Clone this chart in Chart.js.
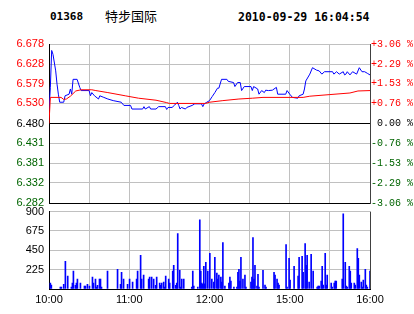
<!DOCTYPE html>
<html>
<head>
<meta charset="utf-8">
<script src="https://cdn.jsdelivr.net/npm/chart.js@4/dist/chart.umd.min.js"></script>
<style>
    body { margin: 0; background: #fff; width: 414px; height: 314px; overflow: hidden; position: relative; }
    .hd { position: absolute; top: 10px; line-height: 13px; font: bold 11px "DejaVu Sans Mono"; color: #000; white-space: nowrap; }
    canvas { position: absolute; left: 0; }
</style>
</head>
<body>
<div class="hd" style="left:50px">01368</div>
<div class="hd" style="left:105px; top:8px; font:13px 'Noto Sans CJK SC'; line-height:16px">特步国际</div>
<div class="hd" style="left:238px; font-size:11.5px">2010-09-29 16:04:54</div>
<canvas id="priceChart" width="414" height="185" style="top:30px"></canvas>
<canvas id="volChart" width="414" height="114" style="top:200px"></canvas>
<script>
// ── Data (minutes after 10:00, trading time only) ───────────
var priceMin = [0, 1, 2, 3, 5, 6, 7, 8, 11, 12, 15, 16, 17, 18, 21, 23, 24, 30, 31, 32, 34, 37, 38, 41, 44, 48, 54, 56, 61, 62,
                70, 71, 72, 75, 76, 80, 82, 87, 88, 89, 92, 94, 96, 97, 98, 99, 102, 103, 107, 109, 114, 115, 116, 118, 120,
                122, 124, 126, 127, 129, 133, 134, 138, 139, 141, 143, 144, 146, 151, 152, 153, 156, 157, 159, 161, 162, 164,
                167, 170, 171, 177, 178, 180, 182, 186, 187, 190, 191, 192, 195, 197, 200, 202, 204, 206, 212, 213, 215, 217,
                220, 221, 222, 223, 225, 227, 230, 232, 234, 236, 238, 240];
var price    = [6.513, 6.569, 6.662, 6.652, 6.611, 6.578, 6.553, 6.533, 6.533, 6.549, 6.553, 6.566, 6.553, 6.590, 6.590,
                6.570, 6.562, 6.562, 6.549, 6.557, 6.549, 6.541, 6.549, 6.545, 6.541, 6.537, 6.533, 6.525, 6.525, 6.516,
                6.516, 6.522, 6.516, 6.522, 6.516, 6.516, 6.522, 6.522, 6.515, 6.520, 6.520, 6.526, 6.533, 6.525, 6.516,
                6.520, 6.516, 6.520, 6.525, 6.529, 6.529, 6.522, 6.529, 6.533, 6.537, 6.547, 6.557, 6.568, 6.568, 6.590,
                6.590, 6.585, 6.582, 6.572, 6.582, 6.582, 6.562, 6.572, 6.572, 6.562, 6.572, 6.566, 6.553, 6.562, 6.557,
                6.563, 6.562, 6.563, 6.570, 6.553, 6.553, 6.562, 6.553, 6.545, 6.543, 6.549, 6.553, 6.566, 6.586, 6.603,
                6.619, 6.613, 6.611, 6.603, 6.609, 6.609, 6.603, 6.609, 6.603, 6.609, 6.601, 6.603, 6.609, 6.601, 6.609,
                6.603, 6.619, 6.609, 6.609, 6.605, 6.601];

var avgMin   = [0, 1, 9, 11, 13, 16, 20, 24, 32, 35, 44, 57, 67, 80, 88, 90, 117, 120, 130, 142, 152, 160, 190, 195, 210, 225, 231, 240];
var avgPrice = [6.480, 6.545, 6.545, 6.540, 6.541, 6.548, 6.561, 6.564, 6.564, 6.562, 6.557, 6.549, 6.543, 6.538, 6.532,
                6.530, 6.530, 6.533, 6.537, 6.541, 6.543, 6.545, 6.545, 6.548, 6.552, 6.556, 6.561, 6.562];

var volMin = [1, 1.75, 8.5, 9.25, 11, 12.25, 14, 16.75, 17.5, 18.25, 19.75, 20.5, 21.25, 23.5, 26.5, 27.25, 28.75, 30.25,
              32.5, 33.25, 34.75, 35.5, 36.25, 37.75, 38.5, 39.25, 43.75, 51.25, 53.5, 54.25, 55.75, 58.75, 60.25, 62.5,
              65.5, 66.25, 68.5, 69.25, 70.75, 74.5, 75.25, 76.75, 78.25, 79.75, 80.5, 82.75, 83.5, 84.25, 85.75, 86.5,
              87.25, 89.5, 90.25, 92.5, 93.25, 94.75, 95.5, 96.25, 97.75, 98.5, 99.25, 100.75, 106.75, 107.5, 108.25,
              111.25, 112.75, 113.5, 114.25, 115, 115.75, 116.5, 117.25, 118.75, 120.25, 121.75, 123.25, 124, 125.5,
              126.25, 127, 128.5, 129.25, 130, 131.5, 134.5, 135.25, 136, 138.25, 140.5, 141.25, 142, 142.75, 143.5, 145,
              146.5, 147.25, 151, 151.75, 152.5, 153.25, 154, 155.5, 156.25, 157, 160, 161.5, 162.25, 168.25, 169, 170.5,
              171.25, 172, 177.25, 178, 179.5, 180.25, 183.25, 186.25, 187, 189.25, 190, 191.5, 192.25, 193, 194.5, 196,
              197.5, 200.5, 201.25, 202, 203.5, 204.25, 205, 206.5, 207.25, 208, 211, 211.75, 213.25, 214, 214.75, 219.25,
              220, 221.5, 222.25, 223, 224.5, 225.25, 226, 228.25, 229, 230.5, 231.25, 232, 233.5, 234.25, 235, 236.5,
              237.25, 238, 240];
var vol    = [69, 46, 23, 23, 54, 322, 149, 23, 69, 207, 42, 69, 115, 69, 34, 34, 54, 34,
              138, 69, 115, 23, 42, 115, 115, 23, 207, 230, 54, 195, 115, 54, 115, 80,
              115, 207, 391, 115, 161, 115, 138, 138, 115, 42, 138, 69, 42, 69, 80, 23,
              149, 115, 69, 207, 276, 42, 69, 643, 218, 23, 115, 115, 23, 207, 34,
              23, 804, 207, 69, 54, 264, 61, 310, 207, 414, 115, 80, 368, 184,
              115, 161, 138, 80, 540, 34, 69, 138, 92, 23, 23, 195, 230, 92, 368, 115,
              161, 23, 80, 138, 597, 115, 276, 34, 172, 23, 218, 46, 23, 195, 161, 115,
              69, 46, 517, 23, 356, 103, 264, 149, 368, 379, 195, 528, 276, 391, 80, 402,
              207, 23, 34, 34, 92, 264, 46, 414, 46, 161, 69, 23, 69, 92, 92, 115,
              873, 310, 34, 23, 264, 207, 69, 69, 46, 471, 356, 161, 80, 23, 103, 230,
              46, 23, 207];

var priceTicks  = [6.282, 6.332, 6.381, 6.431, 6.480, 6.530, 6.579, 6.628, 6.678];
var priceLabels = ['6.282', '6.332', '6.381', '6.431', '6.480', '6.530', '6.579', '6.628', '6.678'];
var pctTicks    = [-3.06, -2.29, -1.53, -0.76, 0, 0.76, 1.53, 2.29, 3.06];
var pctLabels   = ['-3.06 %', '-2.29 %', '-1.53 %', '-0.76 %', ' 0.00 %', '+0.76 %', '+1.53 %', '+2.29 %', '+3.06 %'];
var volTicks    = [0, 225, 450, 675, 900];
var volLabels   = ['', '225', '450', '675', '900'];
var timeTicks   = [0, 30, 60, 90, 120, 150, 180, 210, 240];
var timeLabels  = ['10:00', '', '11:00', '', '12:00', '', '15:00', '', '16:00'];

var prevClose = 6.480;

// ── Shared helpers ──────────────────────────────────────────
var gridGray = '#c0c0c0';
var upRed = '#ff0000', downGreen = '#006400';
var sansFont = { family: 'Liberation Sans', size: 11 };

function pairs(xs, ys) {
    return xs.map(function (x, i) { return { x: x, y: ys[i] }; });
}
function setTicks(list) {
    return function (s) { s.ticks = list.map(function (v) { return { value: v }; }); };
}
function xGridColor(ctx) {
    if (ctx.tick && ctx.tick.value === 240) return '#404040';
    if (ctx.tick && ctx.tick.value === 0) return '#000';
    return gridGray;
}

// ── Price chart ─────────────────────────────────────────────
// (the y axis reserves ~11.6px below itself for its first label, so bottom padding 12)
new Chart(document.getElementById('priceChart'), {
    type: 'line',
    data: {
        datasets: [
            { data: pairs(avgMin, avgPrice), borderColor: '#ff0000', borderWidth: 1, pointRadius: 0, tension: 0, yAxisID: 'y' },
            { data: pairs(priceMin, price), borderColor: '#0000ff', borderWidth: 1, pointRadius: 0, tension: 0, yAxisID: 'y' }
        ]
    },
    options: {
        responsive: false,
        animation: false,
        devicePixelRatio: 1,
        layout: { padding: { top: 14, bottom: 12, left: 0, right: 0 } },
        plugins: { legend: { display: false }, tooltip: { enabled: false } },
        scales: {
            x: {
                type: 'linear', min: 0, max: 240,
                afterBuildTicks: setTicks(timeTicks),
                ticks: { display: false },
                grid: { drawTicks: false, color: xGridColor },
                border: { display: false },
                afterFit: function (s) { s.height = 0; }
            },
            y: {
                position: 'left', min: 6.282, max: 6.678,
                afterBuildTicks: setTicks(priceTicks),
                ticks: {
                    autoSkip: false, padding: 5, font: sansFont,
                    callback: function (v, i) { return priceLabels[i]; },
                    color: function (ctx) {
                        var v = ctx.tick.value;
                        return v > prevClose + 0.0001 ? upRed : (v < prevClose - 0.0001 ? downGreen : '#000');
                    }
                },
                grid: {
                    drawTicks: false,
                    color: function (ctx) {
                        var v = ctx.tick.value;
                        return (Math.abs(v - prevClose) < 0.0001 || v === 6.282) ? '#000' : gridGray;
                    }
                },
                border: { color: '#000' },
                afterFit: function (s) { s.width = 49; }
            },
            y2: {
                position: 'right', min: -3.06, max: 3.06,
                afterBuildTicks: setTicks(pctTicks),
                ticks: {
                    autoSkip: false, padding: 1, font: { family: 'Liberation Mono', size: 10 },
                    callback: function (v, i) { return pctLabels[i]; },
                    color: function (ctx) {
                        var v = ctx.tick.value;
                        return v > 0 ? upRed : (v < 0 ? downGreen : '#000');
                    }
                },
                grid: { display: false, drawTicks: false },
                border: { color: '#404040' },
                afterFit: function (s) { s.width = 44; }
            }
        }
    }
});

// ── Volume chart ────────────────────────────────────────────
new Chart(document.getElementById('volChart'), {
    type: 'bar',
    data: {
        datasets: [
            { data: pairs(volMin, vol), backgroundColor: '#0000ff', barThickness: 1, grouped: false }
        ]
    },
    options: {
        responsive: false,
        animation: false,
        devicePixelRatio: 1,
        layout: { padding: { top: 9, right: 44, left: 0, bottom: 0 } },
        plugins: { legend: { display: false }, tooltip: { enabled: false } },
        scales: {
            x: {
                type: 'linear', min: 0, max: 240, offset: false,
                afterBuildTicks: setTicks(timeTicks),
                ticks: {
                    autoSkip: false, maxRotation: 0, padding: 4, color: '#000',
                    font: sansFont,
                    callback: function (v, i) { return timeLabels[i]; }
                },
                grid: { drawTicks: false, offset: false, color: xGridColor },
                border: { color: '#000' },
                afterFit: function (s) { s.height = 25; }
            },
            y: {
                min: 0, max: 900,
                afterBuildTicks: setTicks(volTicks),
                ticks: {
                    autoSkip: false, padding: 5, color: '#000', font: sansFont,
                    callback: function (v, i) { return volLabels[i]; }
                },
                grid: {
                    drawTicks: false,
                    color: function (ctx) { return ctx.tick.value === 0 ? '#000' : gridGray; }
                },
                border: { color: '#000' },
                afterFit: function (s) { s.width = 49; }
            }
        }
    }
});
</script>
</body>
</html>
